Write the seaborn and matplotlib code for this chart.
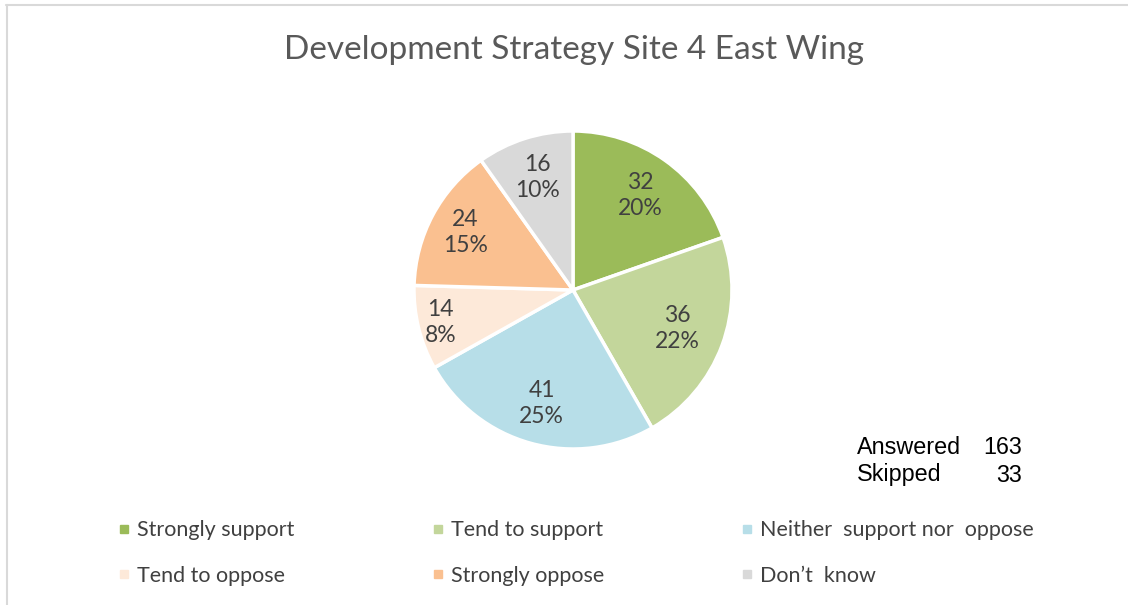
import matplotlib
matplotlib.use("Agg")
import matplotlib.pyplot as plt
import seaborn as sns
import numpy as np
from matplotlib.lines import Line2D

# データ
categories = ["Strongly support", "Tend to support", "Neither  support nor  oppose",
              "Tend to oppose", "Strongly oppose", "Don\u2019t  know"]
counts = [32, 36, 41, 14, 24, 16]
pct_labels = ["20%", "22%", "25%", "8%", "15%", "10%"]
answered = 163
skipped = 33

colors = ["#9BBB59", "#C3D69B", "#B7DEE8", "#FDE9D9", "#FAC090", "#D9D9D9"]
label_dist = [0.73, 0.70, 0.74, 0.86, 0.77, 0.74]

sns.set_style("white")
plt.rcParams['font.family'] = ['Lato', 'DejaVu Sans']

fig = plt.figure(figsize=(11.28, 6.05), dpi=100)
W, H = 1128, 605

# 円グラフ
cx, cy, r = 573, 290, 159
ax = fig.add_axes([(cx - r) / W, (H - cy - r) / H, 2 * r / W, 2 * r / H])
wedges, _ = ax.pie(counts, colors=colors, startangle=90, counterclock=False,
                   wedgeprops=dict(edgecolor="white", linewidth=2.5))
ax.set_xlim(-1, 1)
ax.set_ylim(-1, 1)
ax.set_aspect("equal")
ax.axis("off")

for w, c, p, d in zip(wedges, counts, pct_labels, label_dist):
    ang = np.deg2rad((w.theta1 + w.theta2) / 2)
    ax.text(d * np.cos(ang), d * np.sin(ang), f"{c}\n{p}", ha="center", va="center",
            fontsize=16.5, color="#404040", linespacing=1.3)

# タイトル
fig.text(574 / W, 1 - 50 / H, "Development Strategy Site 4 East Wing", ha="center", va="center",
         fontsize=24, color="#595959")

# 回答数
for y, name, val in [(447, "Answered", answered), (475, "Skipped", skipped)]:
    fig.text(857 / W, 1 - y / H, name, ha="left", va="center", fontsize=16.8,
             family="Liberation Sans", color="black")
    fig.text(1022 / W, 1 - y / H, str(val), ha="right", va="center", fontsize=16.8,
             family="Liberation Sans", color="black")

# 凡例 (行優先に並べ替え)
handles = [Line2D([], [], marker="s", linestyle="none", markersize=6,
                  markerfacecolor=col, markeredgecolor=col) for col in colors]
order = [0, 3, 1, 4, 2, 5]
fig.legend([handles[i] for i in order], [categories[i] for i in order],
           ncol=3, loc="center left", bbox_to_anchor=(119 / W, 1 - 553 / H),
           frameon=False, fontsize=15.5, labelcolor="#404040",
           handlelength=0.5, handletextpad=0.35, columnspacing=6.4, labelspacing=1.18,
           borderpad=0, borderaxespad=0)

# 枠線
fig.add_artist(Line2D([6 / W, 1], [1 - 5 / H, 1 - 5 / H], color="#D9D9D9", linewidth=1.5,
                      transform=fig.transFigure))
fig.add_artist(Line2D([7 / W, 7 / W], [0, 1 - 5 / H], color="#D9D9D9", linewidth=1.5,
                      transform=fig.transFigure))

plt.savefig("out.png", dpi=100)
plt.close()
